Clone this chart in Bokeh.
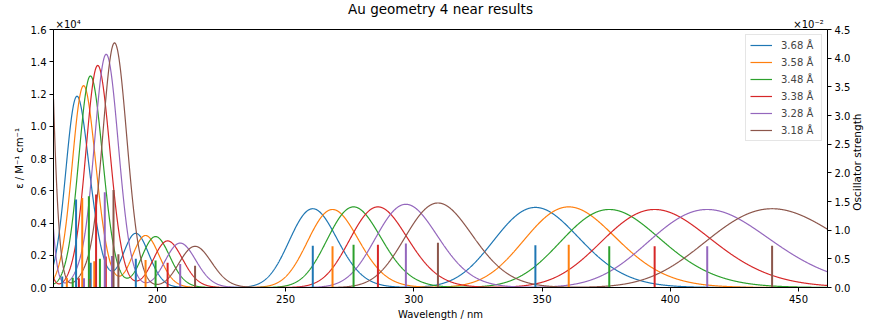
import numpy as np
from bokeh.plotting import figure
from bokeh.models import (Range1d, LinearAxis, FixedTicker, PrintfTickFormatter,
                          CustomJSTickFormatter, Legend, LegendItem)
from bokeh.embed import file_html
from bokeh.resources import INLINE

FONT = "DejaVu Sans"

series_labels = ["3.68 Å", "3.58 Å", "3.48 Å", "3.38 Å", "3.28 Å", "3.18 Å"]
colors = ["#1f77b4", "#ff7f0e", "#2ca02c", "#d62728", "#9467bd", "#8c564b"]

# excitation wavelengths (nm) and oscillator strengths for each Au-Au distance
nm_368 = [144.0, 162.9, 168.3, 174.0, 191.6, 260.6, 347.4]
f_368 = [0.0600, 0.0019, 0.01535, 0.0043, 0.0050, 0.00727, 0.00739]

nm_358 = [146.0, 164.7, 170.7, 175.4, 195.4, 268.3, 360.4]
f_358 = [0.0600, 0.0017, 0.0156, 0.0046, 0.0048, 0.0072, 0.00744]

nm_348 = [148.0, 167.0, 173.3, 177.6, 199.3, 276.5, 376.2]
f_348 = [0.0600, 0.0017, 0.0159, 0.0050, 0.0047, 0.00744, 0.0072]

nm_338 = [150.0, 169.4, 176.1, 179.9, 204.0, 286.0, 393.9]
f_338 = [0.0600, 0.0016, 0.0162, 0.0054, 0.0043, 0.00744, 0.0072]

nm_328 = [152.2, 171.4, 179.5, 182.3, 208.9, 296.9, 414.4]
f_328 = [0.0600, 0.0016, 0.0166, 0.0055, 0.0041, 0.00768, 0.0072]

nm_318 = [154.2, 173.7, 182.9, 184.8, 214.7, 309.4, 439.7]
f_318 = [0.0600, 0.0015, 0.0170, 0.0058, 0.0038, 0.0078, 0.00727]

stick_nm = [nm_368, nm_358, nm_348, nm_338, nm_328, nm_318]
stick_f = [f_368, f_358, f_348, f_338, f_328, f_318]

x_ticks = [200, 250, 300, 350, 400, 450]
eps_ticks = [0.0, 0.2, 0.4, 0.6, 0.8, 1.0, 1.2, 1.4, 1.6]      # x 1e4
osc_ticks = [0.0, 0.5, 1.0, 1.5, 2.0, 2.5, 3.0, 3.5, 4.0, 4.5]  # x 1e-2

# Gaussian broadening in energy: FWHM 0.4 eV, peak epsilon per unit f
FWHM_EV = 0.4
EPS_PER_F = 6.72e5
HC = 1239.84  # eV nm

X_MIN, X_MAX = 159.5, 461.3
# anchors for texts placed outside the frame
LEFT_SCALE_AT, RIGHT_SCALE_AT = 165.2, 453.9   # nm, scale factors above the frame
RIGHT_LABEL_START = 1.34                        # osc axis units, start of right label


def broaden(grid_nm, nm, f):
    e = HC / grid_nm
    sigma = FWHM_EV / (2.0 * np.sqrt(np.log(2.0)))
    out = np.zeros_like(grid_nm)
    for lam, osc in zip(nm, f):
        out += EPS_PER_F * osc * np.exp(-((e - HC / lam) / sigma) ** 2)
    return out


p = figure(width=872, height=322, x_range=Range1d(X_MIN, X_MAX),
           y_range=Range1d(0, 1.6), output_backend="svg", toolbar_location=None,
           min_border_left=53, min_border_right=40, min_border_top=29,
           min_border_bottom=33)
p.extra_y_ranges = {"osc": Range1d(0, 4.5)}

p.title.text = "Au geometry 4 near results"
p.title.align = "center"
p.title.text_font = FONT
p.title.text_font_size = "13.5px"
p.title.text_font_style = "normal"
p.title.text_color = "black"
try:
    p.title.standoff = -3
except ValueError:
    p.title.standoff = 0

p.xgrid.visible = False
p.ygrid.visible = False
p.outline_line_color = "black"
p.outline_line_width = 1
p.background_fill_color = "white"
p.border_fill_color = "white"

grid = np.linspace(X_MIN, X_MAX, 3000)
renderers = []
for nm, f, c in zip(stick_nm, stick_f, colors):
    eps = broaden(grid, np.array(nm), np.array(f))
    r = p.line(grid, eps / 1e4, line_color=c, line_width=1.2)
    renderers.append(r)

for nm, f, c in zip(stick_nm, stick_f, colors):
    heights = [v * 100 for v in f]
    p.segment(x0=nm, y0=[0] * len(nm), x1=nm, y1=heights, y_range_name="osc",
              line_color=c, line_width=2)


def style_axis(ax):
    ax.axis_line_color = "black"
    ax.major_tick_line_color = "black"
    ax.major_tick_out = 4
    ax.major_tick_in = 0
    ax.minor_tick_line_color = None
    ax.minor_tick_out = 0
    ax.minor_tick_in = 0
    ax.major_label_text_font = FONT
    ax.major_label_text_font_size = "10px"
    ax.major_label_text_color = "black"
    ax.major_label_standoff = 3
    ax.axis_label_text_font = FONT
    ax.axis_label_text_font_size = "10px"
    ax.axis_label_text_font_style = "normal"
    ax.axis_label_text_color = "black"


def bare_axis(ax, standoff):
    ax.axis_line_color = None
    ax.major_tick_line_color = None
    ax.minor_tick_line_color = None
    ax.major_tick_out = 0
    ax.major_tick_in = 0
    ax.minor_tick_out = 0
    ax.minor_tick_in = 0
    ax.major_label_standoff = standoff
    ax.major_label_text_font = FONT
    ax.major_label_text_color = "black"


xa = p.xaxis[0]
xa.ticker = FixedTicker(ticks=x_ticks)
xa.axis_label = "Wavelength / nm"
style_axis(xa)
xa.axis_label_standoff = 3

ya = p.yaxis[0]
ya.ticker = FixedTicker(ticks=eps_ticks)
ya.formatter = PrintfTickFormatter(format="%.1f")
ya.axis_label = "ε / M⁻¹ cm⁻¹"
style_axis(ya)
ya.axis_label_standoff = 3

ra = LinearAxis(y_range_name="osc", ticker=FixedTicker(ticks=osc_ticks),
                formatter=PrintfTickFormatter(format="%.1f"))
style_axis(ra)
p.add_layout(ra, "right")

# right-hand axis title, reading bottom to top
ra_title = LinearAxis(y_range_name="osc", ticker=FixedTicker(ticks=[RIGHT_LABEL_START]),
                      formatter=CustomJSTickFormatter(code='return "Oscillator strength";'),
                      major_label_orientation=np.pi / 2)
bare_axis(ra_title, 4)
ra_title.major_label_text_font_size = "10.5px"
p.add_layout(ra_title, "right")

# scale factors of both y axes, shown over the top corners of the frame
scale_axis = LinearAxis(ticker=FixedTicker(ticks=[LEFT_SCALE_AT, RIGHT_SCALE_AT]),
                        formatter=CustomJSTickFormatter(
                            code='return tick < 300 ? "×10⁴" : "×10⁻²";'))
bare_axis(scale_axis, 0)
scale_axis.major_label_text_font_size = "10px"
p.add_layout(scale_axis, "above")

legend = Legend(items=[LegendItem(label=l, renderers=[r])
                       for l, r in zip(series_labels, renderers)],
                location="top_right")
legend.label_text_font = FONT
legend.label_text_font_size = "10px"
legend.glyph_width = 22
legend.glyph_height = 12
legend.label_height = 12
legend.label_width = 36
legend.spacing = 5
legend.padding = 4
legend.margin = 5
legend.label_standoff = 9
legend.border_line_color = "#cccccc"
legend.border_line_width = 1
legend.background_fill_alpha = 0.8
p.add_layout(legend)

open("out.html", "w").write(file_html(p, INLINE))
